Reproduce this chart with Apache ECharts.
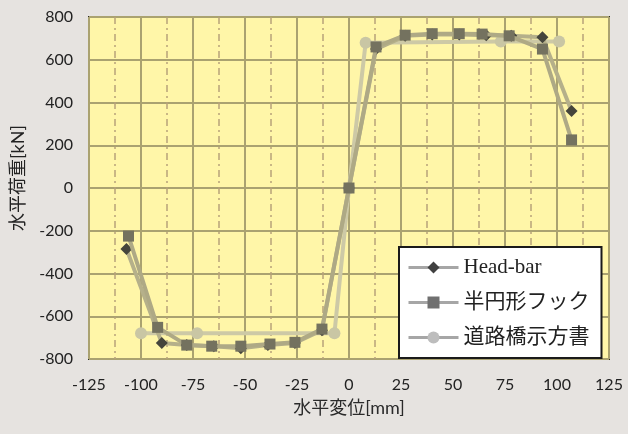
<!DOCTYPE html>
<html>
<head>
<meta charset="utf-8">
<script src="https://cdn.jsdelivr.net/npm/echarts@6/dist/echarts.min.js"></script>
<style>
html,body{margin:0;padding:0;background:#e6e3e0;}
#c{width:628px;height:434px;}
</style>
</head>
<body>
<div id="c"></div>
<script>
const xTicks = [-125,-100,-75,-50,-25,0,25,50,75,100,125];
const yTicks = [-800,-600,-400,-200,0,200,400,600,800];
const seriesNames = ['Head-bar','半円形フック','道路橋示方書'];

const headBarX = [-107,-90,-78,-65,-52,-39,-26,-13,0,13,27,40,53,66,78,93,107];
const headBarY = [-285,-725,-735,-740,-750,-735,-725,-665,0,650,712,718,718,715,712,705,360];

const hookX = [-106,-92,-78,-66,-52,-38,-26,-13,0,13,27,40,53,64,77,93,107];
const hookY = [-225,-652,-735,-740,-740,-730,-722,-660,0,660,715,722,722,720,712,650,225];

const roadX = [-100,-73,-7,0,8,73,101];
const roadY = [-680,-680,-680,0,680,685,685];

const pairs = (xs, ys) => xs.map((x,i)=>[x, ys[i]]);

const chart = echarts.init(document.getElementById('c'));
chart.setOption({
  backgroundColor: '#e6e3e0',
  animation: false,
  grid: {
    left: 89, right: 19, top: 17, bottom: 75,
    show: true, backgroundColor: '#fff6a8', borderColor: '#2b2b2b', borderWidth: 2
  },
  xAxis: {
    type: 'value', min: -125, max: 125, interval: 25,
    name: '水平変位[mm]', nameLocation: 'middle', nameGap: 40,
    nameTextStyle: {fontFamily: "Lato, 'Noto Sans CJK JP'", fontSize: 18, color: '#2a2a2a'},
    axisLine: {show: false}, axisTick: {show: false},
    axisLabel: {fontFamily: 'Lato', fontSize: 16, color: '#222', margin: 18,
      formatter: v => xTicks.includes(v) ? String(v) : ''},
    splitLine: {show: true, lineStyle: {color: '#aaa270', width: 2}},
    minorTick: {show: false, splitNumber: 2},
    minorSplitLine: {show: true, lineStyle: {color: '#b8a37a', width: 1.5, type: [7,4,2,4]}}
  },
  yAxis: {
    type: 'value', min: -800, max: 800, interval: 200,
    name: '水平荷重[kN]', nameLocation: 'middle', nameGap: 62, nameRotate: 90,
    nameTextStyle: {fontFamily: "Lato, 'Noto Sans CJK JP'", fontSize: 18, color: '#222', padding: [0,0,0,20]},
    axisLine: {show: false}, axisTick: {show: false},
    axisLabel: {fontFamily: 'Lato', fontSize: 16, color: '#222', margin: 16,
      formatter: v => yTicks.includes(v) ? String(v) : ''},
    splitLine: {show: true, lineStyle: {color: '#aaa270', width: 2}}
  },
  legend: {
    orient: 'vertical', left: 399, top: 247,
    padding: [10, 12, 10, 8], itemGap: 14,
    itemWidth: 50, itemHeight: 15,
    backgroundColor: '#ffffff', borderColor: '#1a1a1a', borderWidth: 2, borderRadius: 0,
    textStyle: {fontFamily: "'Liberation Serif', 'Noto Sans CJK JP'", fontSize: 21, color: '#222'},
    data: [
      {name: seriesNames[0], itemStyle: {color: '#404040'}, lineStyle: {color: '#a6a6a6', width: 3}},
      {name: seriesNames[1], itemStyle: {color: '#707070'}, lineStyle: {color: '#a6a6a6', width: 3}},
      {name: seriesNames[2], itemStyle: {color: '#bdbdbd'}, lineStyle: {color: '#a6a6a6', width: 3}}
    ]
  },
  series: [
    {
      name: seriesNames[2], type: 'line', data: pairs(roadX, roadY), z: 2,
      symbol: 'circle', symbolSize: 12,
      itemStyle: {color: '#c9c6a4'}, lineStyle: {color: '#cdc9a6', width: 4}
    },
    {
      name: seriesNames[0], type: 'line', data: pairs(headBarX, headBarY), z: 3,
      symbol: 'diamond', symbolSize: 12,
      itemStyle: {color: '#45453c'}, lineStyle: {color: '#b5b08a', width: 4}
    },
    {
      name: seriesNames[1], type: 'line', data: pairs(hookX, hookY), z: 4,
      symbol: 'rect', symbolSize: 11,
      itemStyle: {color: '#74725f'}, lineStyle: {color: '#aea985', width: 4}
    }
  ]
});
</script>
</body>
</html>
